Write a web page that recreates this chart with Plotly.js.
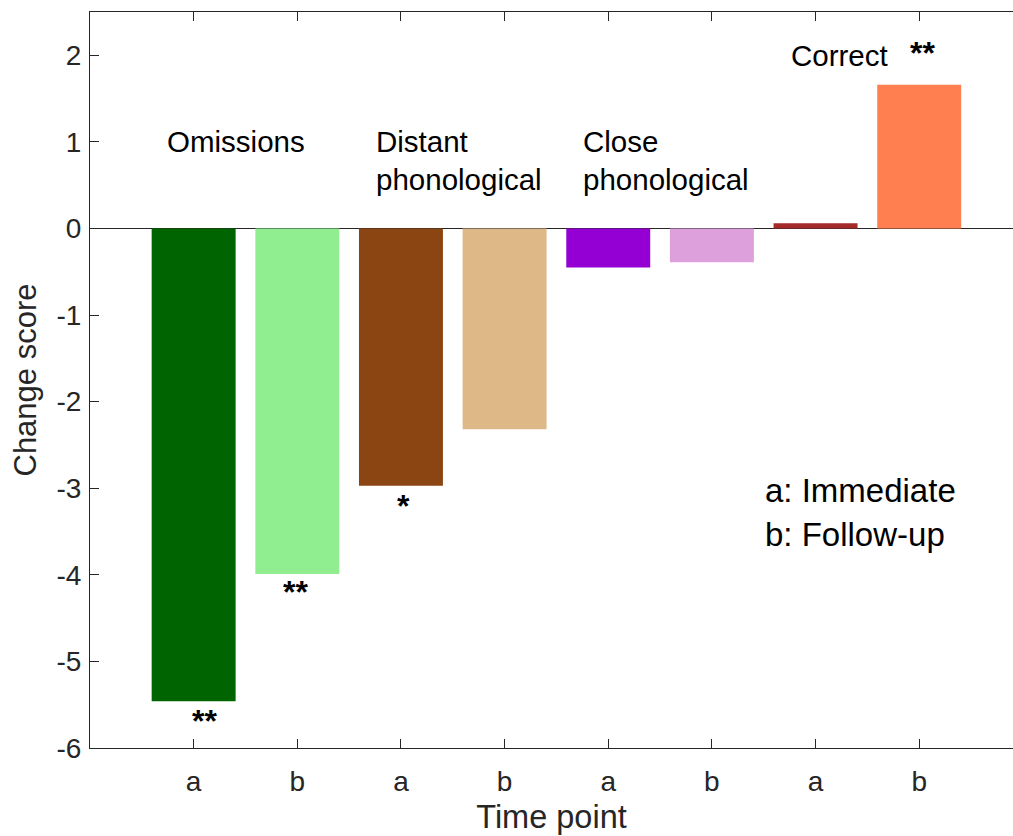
<!DOCTYPE html>
<html>
<head>
<meta charset="utf-8">
<script src="https://cdn.plot.ly/plotly-3.0.1.min.js"></script>
<style>html,body{margin:0;padding:0;background:#fff;}#chart{width:1013px;height:836px;}</style>
</head>
<body>
<div id="chart"></div>
<script>
const positions = [1, 2, 3, 4, 5, 6, 7, 8];
const tickLabels = ["a", "b", "a", "b", "a", "b", "a", "b"];
const changeScores = [-5.46, -3.99, -2.97, -2.32, -0.45, -0.39, 0.06, 1.66];
const barColors = ["#006400", "#90EE90", "#8B4513", "#DEB887", "#9400D3", "#DDA0DD", "#A52A2A", "#FF7F50"];

const groupLabels = ["Omissions", "Distant<br>phonological", "Close<br>phonological", "Correct"];
const groupLabelX = [0.72, 2.74, 4.74, 6.74];
const groupLabelY = [1.0, 0.79, 0.79, 2.0];

const sigMarks = ["**", "**", "*", "**"];
const sigX = [1.1, 1.98, 3.02, 8.03];
const sigY = [-5.69, -4.2, -3.2, 2.03];

const legendLines = ["a: Immediate", "b: Follow-up"];
const legendY = [-3.03, -3.53];

const fontFam = "Liberation Sans, Arial, sans-serif";
const ink = "#262626";

const annotations = [];
groupLabels.forEach((t, i) => annotations.push({
  x: groupLabelX[i], y: groupLabelY[i], xref: "x", yref: "y", text: t,
  showarrow: false, xanchor: "left", yanchor: "middle", align: "left",
  font: {family: fontFam, size: 29.5, color: "#000"}
}));
sigMarks.forEach((t, i) => annotations.push({
  x: sigX[i], y: sigY[i], xref: "x", yref: "y", text: "<b>" + t + "</b>",
  showarrow: false, xanchor: "center", yanchor: "middle",
  font: {family: fontFam, size: 32, color: "#000"}
}));
legendLines.forEach((t, i) => annotations.push({
  x: 6.49, y: legendY[i], xref: "x", yref: "y", text: t,
  showarrow: false, xanchor: "left", yanchor: "middle",
  font: {family: fontFam, size: 33, color: "#000"}
}));

const trace = {
  type: "bar", x: positions, y: changeScores, width: 0.81,
  marker: {color: barColors, line: {width: 0}},
  hoverinfo: "x+y"
};

const layout = {
  width: 1013, height: 836,
  margin: {l: 90, r: 0, t: 12, b: 88},
  paper_bgcolor: "#fff", plot_bgcolor: "#fff",
  showlegend: false,
  font: {family: fontFam, color: ink},
  xaxis: {
    range: [0, 8.905], tickmode: "array", tickvals: positions, ticktext: tickLabels,
    ticks: "inside", ticklen: 9, tickcolor: ink, tickwidth: 1,
    showline: true, linecolor: ink, linewidth: 1, mirror: "ticks",
    showgrid: false, zeroline: false, ticklabelstandoff: 8,
    tickfont: {size: 28, color: ink},
    title: {text: "Time point", font: {size: 32.5, color: ink}, standoff: 9}
  },
  yaxis: {
    range: [-6, 2.5], tickmode: "array", tickvals: [-6, -5, -4, -3, -2, -1, 0, 1, 2],
    ticktext: ["-6", "-5", "-4", "-3", "-2", "-1", "0", "1", "2"],
    ticks: "inside", ticklen: 9, tickcolor: ink, tickwidth: 1,
    showline: true, linecolor: ink, linewidth: 1, mirror: false,
    showgrid: false, zeroline: true, zerolinecolor: ink, zerolinewidth: 1,
    ticklabelstandoff: 2,
    tickfont: {size: 28, color: ink},
    title: {text: "Change score", font: {size: 31, color: ink}, standoff: 10}
  },
  annotations: annotations
};

Plotly.newPlot("chart", [trace], layout, {displayModeBar: false, staticPlot: true});
</script>
</body>
</html>
